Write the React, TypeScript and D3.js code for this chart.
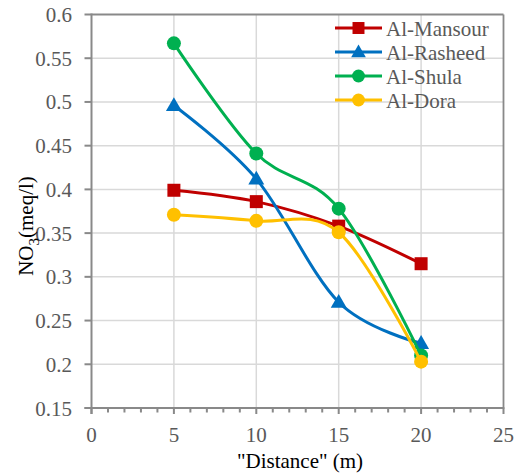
import React from "react";
import * as d3 from "d3";

const distances = [5, 10, 15, 20];
const seriesNames = ["Al-Mansour", "Al-Rasheed", "Al-Shula", "Al-Dora"];
const alMansour = [0.399, 0.386, 0.358, 0.315];
const alRasheed = [0.496, 0.412, 0.271, 0.224];
const alShula = [0.567, 0.441, 0.378, 0.21];
const alDora = [0.371, 0.364, 0.351, 0.203];
const xTicks = [0, 5, 10, 15, 20, 25];
const yTicks = [0.15, 0.2, 0.25, 0.3, 0.35, 0.4, 0.45, 0.5, 0.55, 0.6];
const colors = ["#C00000", "#0070C0", "#00B050", "#FFC000"];
const markers = ["square", "triangle", "circle", "circle"];

const W = 526;
const H = 476;
const x = d3.scaleLinear().domain([0, 25]).range([91.5, 503.5]);
const y = d3.scaleLinear().domain([0.15, 0.6]).range([408, 14.5]);

const AXIS = "#898989";
const GRID = "#d9d9d9";
const TXT = "#595959";
const FAM = '"Liberation Serif", monospace';
const fontStyle = { fontFamily: FAM, fontSize: "21px" };

function Marker({ type, cx, cy, color, size = 1 }: any) {
  if (type === "square") {
    const s = 13 * size;
    return <rect x={cx - s / 2} y={cy - s / 2} width={s} height={s} fill={color} />;
  }
  if (type === "triangle") {
    const sym = d3.symbol().type(d3.symbolTriangle).size(110 * size * size)();
    return <path d={sym as string} transform={`translate(${cx},${cy + 1})`} fill={color} />;
  }
  return <circle cx={cx} cy={cy} r={7 * size} fill={color} />;
}

export default function App() {
  const data = [alMansour, alRasheed, alShula, alDora];
  const line = d3
    .line<[number, number]>()
    .x((d) => x(d[0]))
    .y((d) => y(d[1]))
    .curve(d3.curveCatmullRom.alpha(0));
  const minor = d3.range(0, 26, 1);
  const legendY = [28, 52, 76, 100];

  return (
    <svg width={W} height={H} style={{ position: "absolute", left: 0, top: 0, fontFamily: FAM }}>
      <rect x={0} y={0} width={W} height={H} fill="#fff" />
      {yTicks.slice(1, -1).map((t) => (
        <line key={"gy" + t} x1={x(0)} x2={x(25)} y1={y(t)} y2={y(t)} stroke={GRID} strokeWidth={1.5} />
      ))}
      {xTicks.slice(1, -1).map((t) => (
        <line key={"gx" + t} x1={x(t)} x2={x(t)} y1={y(0.15)} y2={y(0.6)} stroke={GRID} strokeWidth={1.5} />
      ))}
      <line x1={x(0)} x2={x(25)} y1={y(0.6)} y2={y(0.6)} stroke={AXIS} strokeWidth={1.8} />
      <line x1={x(25)} x2={x(25)} y1={y(0.6)} y2={y(0.15)} stroke={AXIS} strokeWidth={1.8} />
      <line x1={x(0)} x2={x(0)} y1={y(0.6) - 0.9} y2={y(0.15) + 6} stroke={AXIS} strokeWidth={2} />
      <line x1={x(0) - 7} x2={x(25) + 0.9} y1={y(0.15)} y2={y(0.15)} stroke={AXIS} strokeWidth={2} />
      {yTicks.map((t) => (
        <line key={"yk" + t} x1={x(0) - 7} x2={x(0)} y1={y(t)} y2={y(t)} stroke={AXIS} strokeWidth={2} />
      ))}
      {minor.map((t) => (
        <line
          key={"mx" + t}
          x1={x(t)}
          x2={x(t)}
          y1={y(0.15)}
          y2={y(0.15) + (t % 5 === 0 ? 6 : 4.5)}
          stroke={AXIS}
          strokeWidth={2}
        />
      ))}
      {yTicks.map((t) => (
        <text key={"yt" + t} x={72} y={y(t) + 7.5} textAnchor="end" style={fontStyle} fill={TXT}>
          {String(t)}
        </text>
      ))}
      {xTicks.map((t) => (
        <text key={"xt" + t} x={x(t)} y={442} textAnchor="middle" style={fontStyle} fill={TXT}>
          {String(t)}
        </text>
      ))}
      <text x={300} y={468} textAnchor="middle" style={fontStyle} fill="#000">
        "Distance" (m)
      </text>
      <text transform="translate(33,226) rotate(-90)" textAnchor="middle" style={fontStyle} fill="#000">
        NO
        <tspan dy={6} style={{ fontSize: "15px" }}>
          3
        </tspan>
        <tspan dy={-6}>(meq/l)</tspan>
      </text>
      {data.map((vals, i) => {
        const pts = distances.map((d, j) => [d, vals[j]] as [number, number]);
        return (
          <g key={"s" + i}>
            <path d={line(pts) as string} fill="none" stroke={colors[i]} strokeWidth={3} />
            {pts.map((p, j) => (
              <Marker key={j} type={markers[i]} cx={x(p[0])} cy={y(p[1])} color={colors[i]} />
            ))}
          </g>
        );
      })}
      {seriesNames.map((n, i) => (
        <g key={"lg" + i}>
          <line x1={335} x2={382} y1={legendY[i]} y2={legendY[i]} stroke={colors[i]} strokeWidth={3} />
          <Marker type={markers[i]} cx={358.5} cy={legendY[i]} color={colors[i]} size={0.92} />
        </g>
      ))}
      {seriesNames.map((n, i) => (
        <text key={"lt" + i} x={386} y={legendY[i] + 7.5} style={fontStyle} fill={TXT}>
          {n}
        </text>
      ))}
    </svg>
  );
}
